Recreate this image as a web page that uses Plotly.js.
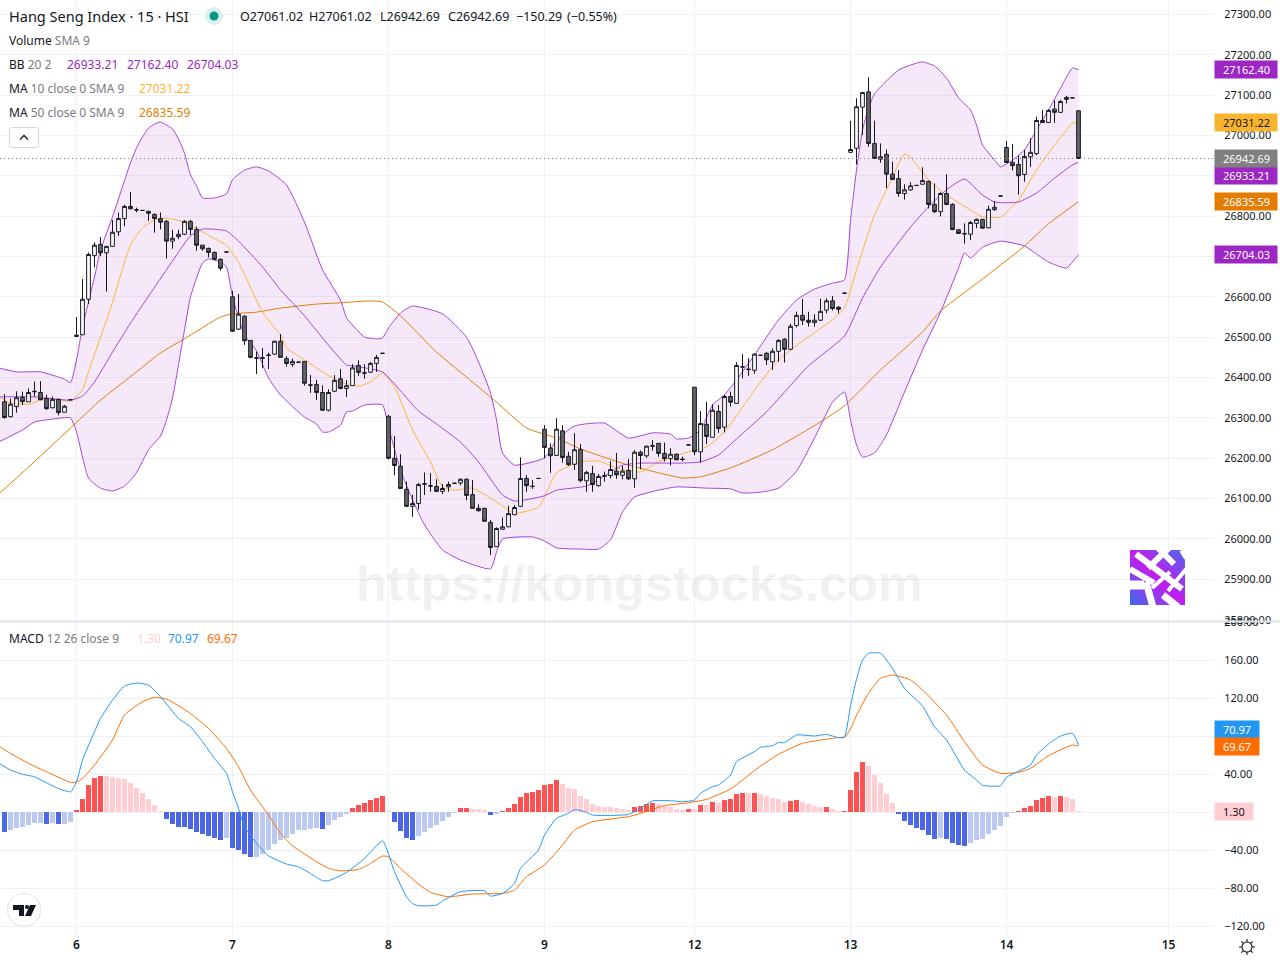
<!DOCTYPE html>
<html>
<head>
<meta charset="utf-8">
<script src="https://cdn.plot.ly/plotly-3.0.1.min.js"></script>
<style>html,body{margin:0;padding:0;background:#fff}#chart{width:1280px;height:960px}</style>
</head>
<body>
<div id="chart"></div>
<script>
// ---------- candles (bar index -12 .. 167) ----------
const openP = [
26340,26303,26328,26351,26340,26366,26363,26348,26325,26346,26314,26345,
26505,26506,26594,26702,26730,26709,26725,26761,26794,26824,26816,26814,26812,26804,26794,26787,26738,26749,26755,26787,26767,26728,26720,26710,26693,26711,
26600,26520,26552,26492,26449,26449,26456,26458,26490,26447,26433,26438,26440,26382,26383,26363,26319,26366,26397,26373,26380,26430,26412,26413,26435,26460,
26304,26200,26180,26123,26081,26088,26137,26132,26130,26118,26129,26138,26139,26148,26110,26076,26076,26041,25981,26024,26030,26060,26081,26150,26131,26150,
26272,26225,26207,26268,26205,26185,26222,26144,26162,26132,26157,26157,26168,26158,26170,26149,26215,26206,26231,26237,26212,26199,26210,26198,26233,
26376,26216,26284,26252,26316,26277,26353,26336,26427,26421,26418,26455,26460,26439,26465,26495,26470,26529,26554,26542,26536,26542,26567,26590,26574,26609,
26958,26968,27070,27108,26980,26941,26953,26904,26893,26856,26865,26876,26879,26886,26829,26811,26856,26829,26766,26757,26755,26782,26792,26771,26816,26850,
26970,26933,26928,26903,26947,26955,27037,27032,27065,27057,27089,27092.98,27061.02];
const highP = [
26359,26348,26366,26365,26373,26390,26391,26357,26353,26348,26332,26345,
26550,26644,26710,26735,26748,26726,26790,26809,26828,26860,26821,26814,26812,26807,26809,26790,26766,26766,26790,26790,26774,26728,26722,26712,26695,26711,
26615,26607,26554,26493,26464,26473,26462,26491,26508,26453,26447,26438,26440,26406,26394,26381,26371,26406,26421,26394,26433,26443,26433,26439,26456,26460,
26307,26255,26210,26142,26110,26139,26165,26163,26148,26136,26142,26138,26150,26150,26146,26086,26077,26047,26029,26053,26082,26084,26202,26158,26146,26150,
26282,26237,26299,26282,26216,26262,26235,26169,26181,26161,26167,26193,26213,26181,26198,26220,26219,26231,26245,26237,26239,26225,26212,26204,26233,
26376,26317,26340,26334,26332,26357,26365,26438,26458,26448,26460,26455,26463,26472,26495,26497,26533,26563,26595,26563,26557,26595,26596,26602,26577,26609,
27036,27092,27108,27144,27036,26980,26965,26935,26914,26879,26884,26876,26921,26888,26881,26860,26904,26832,26767,26782,26788,26794,26792,26826,26837,26850,
26986,26979,26950,26964,26993,27046,27063,27065,27086,27088,27098,27092.98,27061.02];
const lowP = [
26298,26301,26313,26332,26340,26353,26344,26320,26324,26306,26314,26345,
26502,26506,26582,26673,26701,26613,26725,26751,26775,26818,26809,26814,26788,26759,26767,26695,26719,26743,26753,26753,26714,26714,26698,26691,26665,26711,
26513,26518,26481,26448,26409,26423,26421,26456,26450,26427,26427,26438,26380,26362,26344,26318,26316,26364,26371,26352,26380,26404,26397,26413,26414,26460,
26197,26158,26124,26080,26055,26073,26109,26117,26117,26111,26117,26138,26133,26096,26076,26068,26043,25960,25981,26024,26030,26060,26080,26117,26124,26150,
26200,26164,26207,26189,26181,26171,26140,26117,26117,26130,26142,26150,26149,26148,26146,26127,26173,26201,26219,26204,26192,26182,26196,26192,26233,
26208,26189,26235,26252,26263,26264,26328,26336,26398,26404,26409,26455,26431,26419,26439,26437,26468,26524,26530,26526,26526,26540,26559,26566,26559,26609,
26958,26928,27001,26972,26942,26932,26869,26889,26848,26841,26863,26876,26879,26819,26807,26799,26827,26765,26757,26732,26741,26770,26770,26770,26813,26850,
26932,26913,26853,26885,26922,26951,27031,27031,27031,27057,27079,27092.98,26942.69];
const closeP = [
26301,26334,26350,26340,26363,26365,26345,26323,26346,26313,26329,26345,
26502,26594,26705,26728,26709,26725,26760,26794,26824,26818,26815,26814,26807,26794,26785,26738,26745,26755,26787,26767,26728,26719,26710,26693,26671,26711,
26515,26557,26491,26450,26448,26448,26455,26490,26450,26435,26440,26438,26386,26381,26363,26319,26363,26393,26373,26380,26424,26413,26411,26435,26450,26460,
26200,26182,26125,26081,26088,26135,26136,26131,26118,26125,26135,26138,26148,26108,26076,26070,26044,25979,26026,26030,26063,26078,26150,26132,26130,26150,
26227,26206,26272,26202,26184,26221,26145,26165,26135,26155,26156,26172,26159,26168,26149,26215,26207,26230,26230,26212,26199,26210,26196,26197,26233,
26216,26286,26254,26319,26274,26353,26339,26430,26426,26420,26458,26455,26444,26465,26492,26470,26527,26554,26542,26537,26542,26564,26590,26571,26569,26609,
26965,27071,27106,26980,26943,26947,26904,26891,26856,26865,26875,26876,26888,26829,26811,26856,26829,26767,26757,26756,26784,26792,26770,26817,26822,26850,
26933,26925,26900,26948,26958,27037,27032,27062,27057,27084,27094,27092.98,26942.69];

// ---------- Bollinger bands ----------
const bbUpperAt = [-13,-10,-6,-2,-1,0,1,2,3,4,6,9,10,11,12,13,14,16,17,18,19,20,21,23,25,26,28,30,32,35,38,41,44,45,46,48,50,51,52,54,56,61,65,67,69,70,71,73,78,80,83,88,92,96,99,100,102,104,106,108,110,113,117,120,123,126,128,129,130,131,132,133,134,137,140,141,143,145,147,149,150,151,153,154,156,158,160,162,164,166,167];
const bbUpper = [26424,26414,26414,26396,26387,26444,26525,26587,26649,26716,26798,26932,26969,26996,27018,27028,27033,27016,26991,26956,26902,26875,26845,26845,26855,26890,26914,26922,26912,26877,26785,26667,26592,26548,26530,26500,26496,26498,26523,26560,26577,26558,26500,26439,26362,26295,26213,26183,26201,26245,26280,26287,26250,26263,26260,26248,26250,26270,26332,26357,26394,26456,26543,26592,26619,26634,26642,26790,26914,27013,27068,27103,27120,27162,27179,27182,27172,27142,27093,27063,27026,26976,26939,26922,26939,26964,27013,27063,27117,27167,27162.40];
const bbLowerAt = [-13,-9,-7,-4,-1,0,2,4,6,8,10,12,14,15,16,18,19,21,22,24,25,26,28,30,32,34,38,40,41,42,44,45,46,48,51,52,54,56,58,61,64,69,70,71,76,78,80,84,87,89,91,93,97,100,105,109,111,114,117,120,123,126,128,129,130,131,133,135,138,141,144,147,148,149,151,154,158,160,162,165,166,167];
const bbLower = [26240,26270,26290,26297,26300,26265,26151,26126,26119,26131,26164,26221,26255,26295,26349,26518,26600,26684,26694,26686,26674,26600,26505,26466,26399,26357,26302,26285,26265,26265,26282,26315,26317,26332,26332,26277,26171,26097,26035,25973,25948,25926,25968,26000,26005,25995,25978,25975,25975,25998,26067,26104,26121,26129,26126,26124,26114,26116,26126,26168,26250,26339,26364,26295,26233,26203,26213,26258,26364,26468,26562,26671,26709,26696,26723,26738,26726,26706,26686,26671,26686,26704.03];
const bbMidAt = [-13,-7,-1,1,3,6,9,15,19,21,25,27,31,34,38,41,45,46,51,54,57,60,64,67,71,73,78,80,85,88,91,94,101,104,107,110,115,122,128,131,134,139,142,145,148,151,153,155,157,160,163,166,167];
const bbMid = [26352,26352,26344,26354,26389,26463,26535,26667,26751,26768,26763,26738,26674,26617,26553,26498,26431,26429,26414,26367,26317,26285,26240,26191,26109,26094,26107,26121,26131,26156,26183,26188,26188,26191,26208,26248,26315,26429,26503,26597,26674,26773,26823,26865,26892,26852,26835,26833,26835,26857,26894,26927,26933.21];

// ---------- moving averages ----------
const ma10At = [-13,-11,-8,-5,-1,1,2,4,6,9,11,13,15,18,21,24,25,27,31,34,35,38,41,44,47,49,51,53,56,59,61,63,66,70,73,77,80,84,87,90,94,97,102,105,108,113,117,122,126,128,130,133,135,138,139,142,145,149,151,154,157,160,163,165,166,167];
const ma10 = [26354,26337,26334,26349,26342,26369,26414,26500,26587,26728,26771,26790,26795,26785,26761,26736,26728,26686,26562,26505,26473,26444,26414,26389,26379,26389,26411,26377,26270,26191,26129,26121,26126,26092,26064,26079,26164,26191,26193,26176,26166,26191,26216,26228,26265,26369,26444,26501,26543,26572,26667,26803,26865,26954,26946,26890,26852,26815,26798,26798,26840,26914,26976,27013,27031,27031.22];
const ma50At = [-13,-8,-1,4,10,14,18,24,26,30,34,40,44,49,51,54,60,66,70,75,80,84,92,97,101,104,109,116,124,128,131,134,137,141,144,149,153,158,162,167];
const ma50 = [26111,26178,26275,26344,26414,26461,26496,26550,26558,26562,26572,26582,26585,26590,26587,26553,26463,26389,26339,26275,26250,26223,26183,26164,26151,26154,26176,26221,26290,26330,26374,26419,26458,26513,26565,26622,26667,26726,26781,26835.59];

// ---------- MACD ----------
const macdAt = [-13,-11,-9,-7,-5,-3,-1,0,1,3,4,6,8,10,12,14,17,19,21,23,25,26,27,28,30,32,35,37,39,41,42,45,48,51,53,55,56,57,60,61,64,68,69,71,73,74,77,78,80,82,83,85,86,92,94,96,99,101,103,104,106,107,109,110,113,114,116,117,118,120,123,125,127,128,129,130,131,132,134,136,138,141,143,145,148,150,151,154,155,159,160,162,164,166,167];
const macdLine = [52,44.5,40,37.4,31,25,21.6,32,55,84.8,98.9,118,133,136,134,121.7,98.9,90,74.3,56.7,40.9,21.6,4.1,-15.2,-32.8,-45.8,-54.5,-57.3,-64.4,-72,-72,-63.3,-48.6,-30.3,-62.6,-89,-96,-98.4,-97.6,-93.4,-83.6,-82.6,-88.2,-85.4,-74.8,-59,-39.7,-24,-6.4,-1.1,3,0,-2.9,-2.2,4.1,11.9,12.2,11.2,12.9,19.9,26.9,28.7,39.2,53.3,63.8,68.4,70.1,73.6,73.3,81.4,80.3,82,78.6,79.6,112,140,160.3,167.4,167.4,151.6,130.5,111.9,90.1,76.1,44.5,34,28.4,28,36.8,49.8,60.3,71.9,80.3,83.1,70.97];
const signalAt = [-13,-11,-8,-5,-1,0,1,3,6,8,11,13,15,19,22,25,27,29,32,34,36,40,42,44,47,49,51,52,54,57,59,62,66,71,73,75,78,81,83,86,92,94,98,102,105,109,114,117,121,127,128,129,130,132,134,136,139,141,145,148,151,154,157,159,162,166,167];
const signalLine = [70,62,51.5,42.7,31.5,31.8,35.7,49.7,76,102.4,116.4,121,119.2,104,88.3,67.3,47.9,23.4,-2.9,-22.2,-35.2,-52,-59,-61.6,-60.1,-53.8,-46.1,-46.8,-59,-75.6,-84.3,-88.9,-86,-85.4,-81.9,-67.8,-55.5,-34.5,-18.7,-9.9,-4.6,-1.1,7,10.1,13.6,24.5,48.7,61,72.6,78.6,78.6,88,102,125.2,141,144.5,139.3,128.8,102.4,74.3,49.8,41,42,46.3,59.6,70.8,69.67];
const histValues = [
-20.4,-18.3,-16.5,-15.4,-13,-11.2,-11.2,-12.3,-11.2,-12.3,-12.3,-10.2,
2.5,14,28.8,36.2,38.3,38.3,37.2,36.2,35.1,30.9,25.6,20.4,14,7.7,1.4,-7,-12.3,-15.4,-15.4,-17.6,-20.7,-22.8,-24.9,-27,-29.1,-27,
-37.6,-39.7,-43.9,-47,-47,-43.9,-39.7,-33.3,-29.1,-27,-22.8,-18.6,-18.6,-17.6,-16.5,-17.6,-13.3,-8,-4.9,-1.8,4.6,7.7,9.8,13,15.1,17.2,
1.4,-10.2,-19.7,-27,-29.1,-24.9,-20.7,-16.5,-13.3,-9.1,-4.9,-0.7,4.6,4.6,3.5,3.5,2.5,-2.8,-1.8,1.4,4.6,8.8,16.1,20.4,21.4,23.5,
28.8,29.8,34,29.8,25.6,24.6,17.2,14,8.8,6.7,5.6,5.6,4.6,3.5,2.5,5.6,6.7,8.8,9.8,8.8,6.7,5.6,3.5,2.5,3.5,
3.5,7.7,7.7,10.9,9.8,13,14,19.3,20.4,20.4,20.4,19.3,17.2,15.1,14,10.9,11.9,13,10.9,8.8,6.7,5.6,5.6,3.5,1.4,1.4,
23.5,42.5,53,48.8,39.3,30.9,19.3,9.8,-1.8,-9.1,-13.3,-16.5,-18.6,-23.9,-28.1,-27,-28.1,-32.3,-34.4,-35.5,-32.3,-29.1,-28.1,-22.8,-18.6,-14.4,
-4.9,-0.7,1.4,4.6,6.7,13,15.1,17.2,16.1,17.2,16.1,14,1.3];
const histTone = [
"S","L","L","L","L","L","L","S","L","S","L","L",
"S","S","S","S","S","L","L","L","L","L","L","L","L","L","L","S","S","S","S","S","S","S","S","S","S","L",
"S","S","S","S","L","L","L","L","L","L","L","L","L","L","L","S","L","L","L","L","S","S","S","S","S","S",
"L","S","S","S","S","L","L","L","L","L","L","L","S","S","L","L","L","S","L","S","S","S","S","S","S","S",
"S","S","S","L","L","L","L","L","L","L","L","L","L","L","L","S","S","S","S","L","L","L","L","L","S",
"L","S","L","S","L","S","S","S","S","L","S","L","L","L","L","L","S","S","L","L","L","L","S","L","L","S",
"S","S","S","L","L","L","L","L","S","S","S","S","S","S","S","L","S","S","S","S","L","L","L","L","L","L",
"L","L","S","S","S","S","S","S","L","S","L","L","L"];

// ---------- axes ----------
const barIndex = openP.map((_, n) => n - 12);
const dayTicks = [0, 26, 52, 78, 103, 129, 155, 182];
const dayLabels = ["6", "7", "8", "9", "12", "13", "14", "15"];
const priceTicks = [27300,27200,27100,27000,26900,26800,26700,26600,26500,26400,26300,26200,26100,26000,25900,25800];
const macdTicks = [200,160,120,80,40,0,-40,-80,-120];
const macdTickLabels = ["200.00","160.00","120.00","","40.00","","\u221240.00","\u221280.00","\u2212120.00"];

// ---------- colours ----------
const INK = "#131722", GREY = "#787B86", GRID = "#F0F1F3";
const PURPLE = "#9C27C4", BBLINE = "#A445D6", MA10C = "#FFB433", MA50C = "#E57C00", BLUE = "#2196F3", ORANGE = "#FF6D00";
const toneColor = (v, t) => v >= 0 ? (t === "S" ? "#FF5252" : "#FFCDD2") : (t === "S" ? "#4C66EA" : "#BAC8F2");

// ---------- geometry helpers ----------
const W = 1214, H = 936, FONT = "'Noto Sans', sans-serif";
const MAIN_BOTTOM = 620.5, SUB_TOP = 622, TICK_SIZE = 11;
const X_RANGE = [-12.75, 189.58];
const py = y => 1 - y / H;
const px = x => x / W;

function label(x, y, text, color, size, extra) {
  return Object.assign({xref:"paper", yref:"paper", x:px(x-1), y:py(y), text, showarrow:false,
    xanchor:"left", yanchor:"middle", borderpad:0, font:{family:FONT, size:size||12, color:color||INK}}, extra||{});
}
function tagPair(value, yref, text, bg, fg, w, shift) {
  return [
    {xref:"paper", yref, x:1, y:value, yshift:shift||0, text:"&nbsp;", showarrow:false, xanchor:"left", yanchor:"middle",
     width:w, height:17, bgcolor:bg, borderpad:0, font:{size:10, color:bg}},
    {xref:"paper", yref, x:1, y:value, yshift:shift||0, xshift:8, text, showarrow:false, xanchor:"left", yanchor:"middle",
     borderpad:0, font:{family:FONT, size:TICK_SIZE, color:fg}}
  ];
}

const svgUri = s => "data:image/svg+xml;utf8," + encodeURIComponent(s);
const logoSvg = svgUri('<svg xmlns="http://www.w3.org/2000/svg" viewBox="0 0 55 55"><defs><linearGradient id="g" x1="0" y1="1" x2="1" y2="0"><stop offset="0" stop-color="#3F6CEA"/><stop offset=".5" stop-color="#C21CF0"/><stop offset="1" stop-color="#4C68E8"/></linearGradient></defs><rect width="55" height="55" fill="url(#g)"/><g stroke="#fff" fill="none" stroke-width="6"><path d="M6 4L52 39"/><path d="M28-2L44 14"/><path d="M0 19L24 33"/><path d="M18 18L40-3"/><path d="M0 35H14" stroke-width="9"/><path d="M16 32L23 57" stroke-width="7"/><path d="M33 45L48 57" stroke-width="7"/><path d="M38 41L57 18" stroke-width="4"/><path d="M52 0L57 8"/><path d="M22 38L40 22" stroke-width="4"/></g></svg>');
const tvSvg = svgUri('<svg xmlns="http://www.w3.org/2000/svg" viewBox="0 0 36 36"><circle cx="18" cy="18" r="16.5" fill="#fff" stroke="#E8E8EA" stroke-width="1.2"/><path d="M7 13H18V24H13V18H7Z" fill="#131722"/><circle cx="21" cy="15" r="2" fill="#131722"/><path d="M24 13H30L25 24H19Z" fill="#131722"/></svg>');
const gearSvg = svgUri('<svg xmlns="http://www.w3.org/2000/svg" viewBox="0 0 18 18"><circle cx="9" cy="9" r="5" fill="none" stroke="#131722" stroke-width="1.1"/><g stroke="#131722" stroke-width="1.1"><path d="M9 1V4M9 14V17M1 9H4M14 9H17M3.3 3.3L5.4 5.4M12.6 12.6L14.7 14.7M14.7 3.3L12.6 5.4M5.4 12.6L3.3 14.7"/></g></svg>');
const dotSvg = svgUri('<svg xmlns="http://www.w3.org/2000/svg" viewBox="0 0 18 18"><circle cx="9" cy="9" r="9" fill="#D9F0EC"/><circle cx="9" cy="9" r="4.5" fill="#089981"/></svg>');
const btnSvg = svgUri('<svg xmlns="http://www.w3.org/2000/svg" viewBox="0 0 30 21"><rect x=".5" y=".5" width="29" height="20" rx="2.5" fill="#fff" stroke="#D6D8DE"/><path d="M11 12.5L15 8.5L19 12.5" fill="none" stroke="#131722" stroke-width="1.3"/></svg>');
const img = (source, x, y, w, h) => ({source, xref:"paper", yref:"paper", x:px(x), y:py(y), sizex:w/W, sizey:h/H,
  xanchor:"left", yanchor:"top", sizing:"stretch", layer:"above"});

const line = (x, y, color, width, xa, ya) => ({type:"scatter", mode:"lines", x, y, xaxis:xa||"x", yaxis:ya||"y",
  line:{color, width:width||1, shape:"spline", smoothing:0.5}, hoverinfo:"skip", showlegend:false});

const data = [
  {type:"scatter", mode:"lines", x:bbUpperAt.concat(bbLowerAt.slice().reverse()), y:bbUpper.concat(bbLower.slice().reverse()),
   fill:"toself", fillcolor:"rgba(156,39,196,0.1)", line:{width:0, shape:"linear"}, hoverinfo:"skip", showlegend:false, xaxis:"x", yaxis:"y"},
  line(ma50At, ma50, MA50C, 1),
  line(ma10At, ma10, MA10C, 1),
  line(bbUpperAt, bbUpper, BBLINE, 1),
  line(bbMidAt, bbMid, BBLINE, 1),
  line(bbLowerAt, bbLower, BBLINE, 1),
  {type:"candlestick", x:barIndex, open:openP, high:highP, low:lowP, close:closeP, xaxis:"x3", yaxis:"y3",
   increasing:{line:{color:INK, width:1}, fillcolor:"#FFFFFF"},
   decreasing:{line:{color:INK, width:1}, fillcolor:"#666666"},
   whiskerwidth:0, hoverinfo:"skip", showlegend:false},
  {type:"bar", x:barIndex, y:histValues, xaxis:"x2", yaxis:"y2", width:0.84,
   marker:{color:histValues.map((v, n) => toneColor(v, histTone[n])), line:{width:0}}, hoverinfo:"skip", showlegend:false},
  line(signalAt, signalLine, ORANGE, 1, "x2", "y2"),
  line(macdAt, macdLine, BLUE, 1, "x2", "y2")
];

const priceTop = 27300 + 14.3 * 2.4777, priceBottom = 27300 - (MAIN_BOTTOM - 14.3) * 2.4777;
const macdTop = (812.3 - SUB_TOP) / 0.95, macdBottom = (812.3 - H) / 0.95;

const annotations = [
  label(356, 583, "https://kongstocks.com", "rgba(0,0,0,0.055)", 50.5, {font:{family:"'Liberation Sans', Arial, sans-serif", size:50.5, color:"rgba(0,0,0,0.055)", weight:700}}),
  label(9, 16, "Hang Seng Index \u00b7 15 \u00b7 HSI", INK, 14.5),
  label(239.5, 16.5, "O27061.02", INK, 12.5), label(309, 16.5, "H27061.02", INK, 12.5),
  label(379.5, 16.5, "L26942.69", INK, 12.5), label(448, 16.5, "C26942.69", INK, 12.5),
  label(516, 16.5, "\u2212150.29", INK, 12.5), label(567, 16.5, "(\u22120.55%)", INK, 12.5),
  label(9, 40.5, 'Volume <span style="color:' + GREY + '">SMA 9</span>', INK, 12),
  label(9, 64.5, 'BB <span style="color:' + GREY + '">20 2</span>', INK, 12),
  label(67, 64.5, "26933.21", PURPLE, 12), label(127, 64.5, "27162.40", PURPLE, 12), label(187, 64.5, "26704.03", PURPLE, 12),
  label(9, 88.5, 'MA <span style="color:' + GREY + '">10 close 0 SMA 9</span>', INK, 12),
  label(139, 88.5, "27031.22", MA10C, 12),
  label(9, 112.5, 'MA <span style="color:' + GREY + '">50 close 0 SMA 9</span>', INK, 12),
  label(139, 112.5, "26835.59", MA50C, 12),
  label(9, 638.5, 'MACD <span style="color:' + GREY + '">12 26 close 9</span>', INK, 12),
  label(137, 638.5, "1.30", "#FFCDD2", 12), label(168, 638.5, "70.97", BLUE, 12), label(207, 638.5, "69.67", ORANGE, 12)
].concat(
  tagPair(27162.40, "y", "27162.40", PURPLE, "#FFFFFF", 62),
  tagPair(27031.22, "y", "27031.22", "#F9B42D", INK, 62),
  tagPair(26933.21, "y", "26933.21", PURPLE, "#FFFFFF", 62, -13.6),
  tagPair(26942.69, "y", "26942.69", "#808080", "#FFFFFF", 62),
  tagPair(26835.59, "y", "26835.59", MA50C, "#FFFFFF", 62),
  tagPair(26704.03, "y", "26704.03", PURPLE, "#FFFFFF", 62),
  tagPair(70.97, "y2", "70.97", BLUE, "#FFFFFF", 44, 15.5),
  tagPair(69.67, "y2", "69.67", ORANGE, "#FFFFFF", 44),
  tagPair(1.30, "y2", "1.30", "#FFCDD2", INK, 38)
);

const xBase = {range:X_RANGE, tickmode:"array", tickvals:dayTicks, showgrid:true, gridcolor:GRID, gridwidth:1,
  zeroline:false, showline:false, ticks:"", fixedrange:true};
const yBase = {side:"right", showgrid:true, gridcolor:GRID, gridwidth:1, zeroline:false, showline:false,
  ticks:"outside", ticklen:7, tickcolor:"rgba(0,0,0,0)", tickfont:{family:FONT, size:TICK_SIZE, color:INK},
  tickmode:"array", fixedrange:true};

const layout = {
  width:1280, height:960, margin:{l:0, r:66, t:0, b:24, pad:0}, paper_bgcolor:"#fff", plot_bgcolor:"#fff",
  showlegend:false, hovermode:false, bargap:0, boxgap:0.12,
  xaxis:Object.assign({}, xBase, {domain:[0,1], anchor:"y", showticklabels:false, rangeslider:{visible:false}}),
  xaxis2:Object.assign({}, xBase, {domain:[0,1], anchor:"y2", ticktext:dayLabels, showticklabels:true,
    tickfont:{family:FONT, size:12, color:INK, weight:600}}),
  xaxis3:{range:X_RANGE, overlaying:"x", anchor:"y3", visible:false, fixedrange:true, rangeslider:{visible:false}},
  yaxis:Object.assign({}, yBase, {domain:[py(MAIN_BOTTOM),1], anchor:"x", range:[priceBottom, priceTop],
    tickvals:priceTicks, ticktext:priceTicks.map(v => v.toFixed(2))}),
  yaxis2:Object.assign({}, yBase, {domain:[0,py(SUB_TOP)], anchor:"x2", range:[macdBottom, macdTop],
    tickvals:macdTicks, ticktext:macdTickLabels}),
  yaxis3:{overlaying:"y", anchor:"x3", range:[priceBottom, priceTop], visible:false, fixedrange:true},
  shapes:[
    {type:"line", xref:"paper", yref:"y", x0:0, x1:1, y0:26942.69, y1:26942.69, line:{color:"#787878", width:1, dash:"1px,3px"}, layer:"above"},
    {type:"rect", xref:"paper", yref:"paper", x0:0, x1:1280/W, y0:py(622.5), y1:py(620.5), fillcolor:"#E0E3EB", line:{width:0}, layer:"above"}
  ],
  images:[
    img(logoSvg, 1130, 550, 55, 55),
    img(tvSvg, 6, 892, 36, 36),
    img(gearSvg, 1238, 938, 18, 18),
    img(dotSvg, 205, 7, 18, 18),
    img(btnSvg, 9, 127, 30, 21)
  ],
  annotations
};

Plotly.newPlot("chart", data, layout, {displayModeBar:false, staticPlot:true, responsive:false});
</script>
</body>
</html>
